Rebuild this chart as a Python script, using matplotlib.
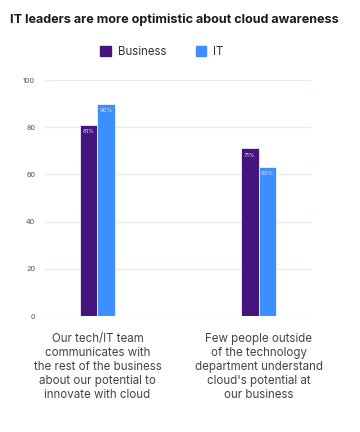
import numpy as np
import matplotlib
matplotlib.use("Agg")
from matplotlib import pyplot as plt
from matplotlib.patches import Patch

categories = [
    "Our tech/IT team\ncommunicates with\nthe rest of the business\nabout our potential to\ninnovate with cloud",
    "Few people outside\nof the technology\ndepartment understand\ncloud's potential at\nour business",
]
business = [81, 71]
it = [90, 63]
yticks = [0, 20, 40, 60, 80, 100]

c_bus = "#45157e"
c_it = "#3d8eff"

plt.rcParams["font.family"] = ["Inter", "DejaVu Sans"]

fig = plt.figure(figsize=(3.6, 4.32), dpi=100)
ax = fig.add_axes([0.125, 0.2685, 0.739, 0.5463])

x = np.arange(len(categories))
w = 0.11
b1 = ax.bar(x - w / 2, business, w, color=c_bus, edgecolor="white", linewidth=0.5, zorder=3)
b2 = ax.bar(x + w / 2, it, w, color=c_it, edgecolor="white", linewidth=0.5, zorder=3)

for bars, vals in [(b1, business), (b2, it)]:
    for r, v in zip(bars, vals):
        ax.text(r.get_x() + r.get_width() / 2, v - 2.8, str(v) + "%", ha="center", va="center",
                fontsize=4.3, color="#e6dcf2", zorder=4)

ax.set_xlim(-0.326, 1.326)
ax.set_ylim(0, 100)
ax.set_yticks(yticks)
ax.set_yticklabels([str(t) for t in yticks], fontsize=5.3, color="#555555")
ax.tick_params(axis="y", length=0, pad=7)
ax.set_xticks([])
ax.grid(axis="y", color="#e4ecf2", linewidth=1, zorder=0)
for s in ax.spines.values():
    s.set_visible(False)

for xi, label in zip(x, categories):
    ax.text(xi, -7.2, label, ha="center", va="top", fontsize=8.3, color="#444444",
            linespacing=1.22, transform=ax.transData)

fig.text(0.028, 0.955, "IT leaders are more optimistic about cloud awareness", fontsize=9.1,
         fontweight="bold", color="#1a1a1a", ha="left", va="center")

handles = [Patch(color=c_bus), Patch(color=c_it)]
fig.legend(handles, ["Business", "IT"], loc="center", bbox_to_anchor=(0.45, 0.88), ncol=2,
           frameon=False, fontsize=8.3, handlelength=0.9, handleheight=0.9,
           columnspacing=2.6, handletextpad=0.6, labelcolor="#333333")

fig.savefig("out.png", dpi=100)
